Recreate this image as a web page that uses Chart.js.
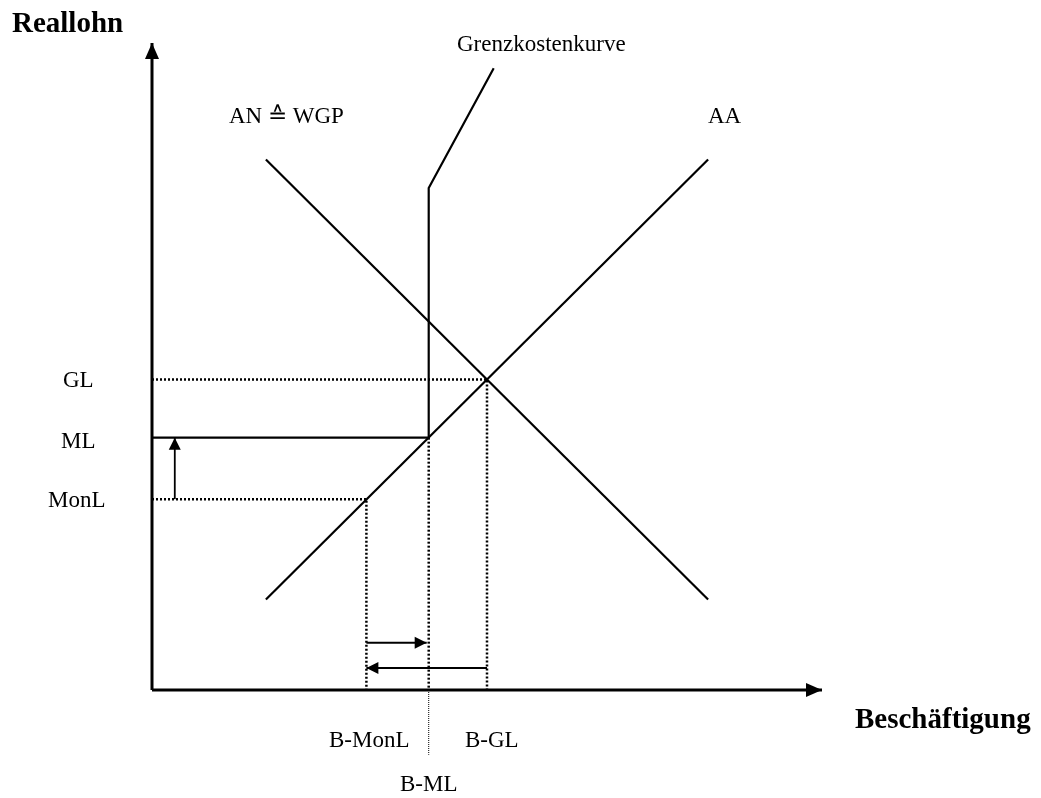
<!DOCTYPE html>
<html>
<head>
<meta charset="utf-8">
<script src="https://cdn.jsdelivr.net/npm/chart.js@4/dist/chart.umd.min.js"></script>
<style>
html,body{margin:0;padding:0;background:#fff;}
#wrap{position:relative;width:1041px;height:798px;}
</style>
</head>
<body>
<div id="wrap"><canvas id="c"></canvas></div>
<script>
// ---- data (economic units: employment x, real wage y, both 0..100) ----
const axisX = [{x:0,y:0},{x:100,y:0}];
const axisY = [{x:0,y:0},{x:0,y:100}];
const curveAA = [{x:17,y:14},{x:83,y:82}];           // Arbeitsangebot
const curveAN = [{x:17,y:82},{x:83,y:14}];           // Arbeitsnachfrage = WGP
const grenzkosten = [{x:41.3,y:39},{x:41.3,y:77.6},{x:51,y:96.1}];
const wageGL = 48, wageML = 39, wageMonL = 29.5;
const empGL = 50, empML = 41.3, empMonL = 32;
const lineML = [{x:0,y:wageML},{x:empML,y:wageML}];
const dotGL = [{x:0,y:wageGL},{x:empGL,y:wageGL},{x:empGL,y:0}];
const dotMonL = [{x:0,y:wageMonL},{x:empMonL,y:wageMonL},{x:empMonL,y:0}];
const dotML = [{x:empML,y:wageML},{x:empML,y:0}];
const dotMLbelow = [{x:empML,y:0},{x:empML,y:-10}];
const arrowUp = [{x:3.4,y:wageMonL},{x:3.4,y:wageML}];
const arrowRight = [{x:empMonL,y:7.3},{x:41.0,y:7.3}];
const arrowLeft = [{x:empGL,y:3.4},{x:empMonL,y:3.4}];

const labelTexts = ['Reallohn','Beschäftigung','Grenzkostenkurve','AN ≙ WGP','AA','GL','ML','MonL','B-MonL','B-GL','B-ML'];
// label layout (pixel anchors, left-aligned baseline)
const labelLayout = [
  {x:12,y:32,bold:true},{x:855,y:728,bold:true},{x:457,y:51},{x:229,y:123},{x:708,y:123},
  {x:63,y:387},{x:61,y:448},{x:48,y:507},{x:329,y:747},{x:465,y:747},{x:400,y:791}
];

function ds(data, opts){
  return Object.assign({data, showLine:true, borderColor:'#000', backgroundColor:'#000',
    pointRadius:0, pointHoverRadius:0, borderWidth:2.2, fill:false, tension:0, clip:false}, opts||{});
}

const arrowPlugin = {
  id:'arrows',
  afterDatasetsDraw(chart){
    const ctx = chart.ctx;
    chart.data.datasets.forEach((d,i)=>{
      if(!d.arrow) return;
      const pts = chart.getDatasetMeta(i).data;
      const a = pts[pts.length-2], b = pts[pts.length-1];
      const ang = Math.atan2(b.y-a.y, b.x-a.x);
      const L = d.arrow.len, W = d.arrow.w/2;
      ctx.save();
      ctx.translate(b.x,b.y); ctx.rotate(ang);
      ctx.beginPath(); ctx.moveTo(0,0); ctx.lineTo(-L,-W); ctx.lineTo(-L,W); ctx.closePath();
      ctx.fillStyle='#000'; ctx.fill();
      ctx.restore();
    });
  }
};
const labelPlugin = {
  id:'labels',
  afterDraw(chart){
    const ctx = chart.ctx;
    ctx.save();
    ctx.fillStyle='#000'; ctx.textAlign='left'; ctx.textBaseline='alphabetic';
    labelTexts.forEach((t,i)=>{
      const p = labelLayout[i];
      ctx.font = p.bold ? 'bold 29px "Liberation Serif", "Times New Roman", serif' : '23px "Liberation Serif", "Times New Roman", serif';
      ctx.fillText(t,p.x,p.y);
    });
    ctx.restore();
  }
};

new Chart(document.getElementById('c'), {
  type:'scatter',
  data:{datasets:[
    ds(axisX,{borderWidth:3, arrow:{len:16,w:14}}),
    ds(axisY,{borderWidth:3, arrow:{len:16,w:14}}),
    ds(curveAA),
    ds(curveAN),
    ds(grenzkosten),
    ds(lineML),
    ds(dotGL,{borderWidth:2.5,borderDash:[2,2]}),
    ds(dotMonL,{borderWidth:2.5,borderDash:[2,2]}),
    ds(dotML,{borderWidth:2.5,borderDash:[2,2]}),
    ds(dotMLbelow,{borderWidth:1,borderDash:[1,1]}),
    ds(arrowUp,{borderWidth:1.8, arrow:{len:12,w:12}}),
    ds(arrowRight,{borderWidth:1.8, arrow:{len:12,w:12}}),
    ds(arrowLeft,{borderWidth:1.8, arrow:{len:12,w:12}})
  ]},
  options:{
    responsive:true, maintainAspectRatio:false, animation:false,
    layout:{padding:{left:152,right:219,top:43,bottom:108}},
    scales:{
      x:{type:'linear',min:0,max:100,display:false},
      y:{type:'linear',min:0,max:100,display:false}
    },
    plugins:{legend:{display:false},tooltip:{enabled:false}},
    events:[]
  },
  plugins:[arrowPlugin,labelPlugin]
});
</script>
</body>
</html>
